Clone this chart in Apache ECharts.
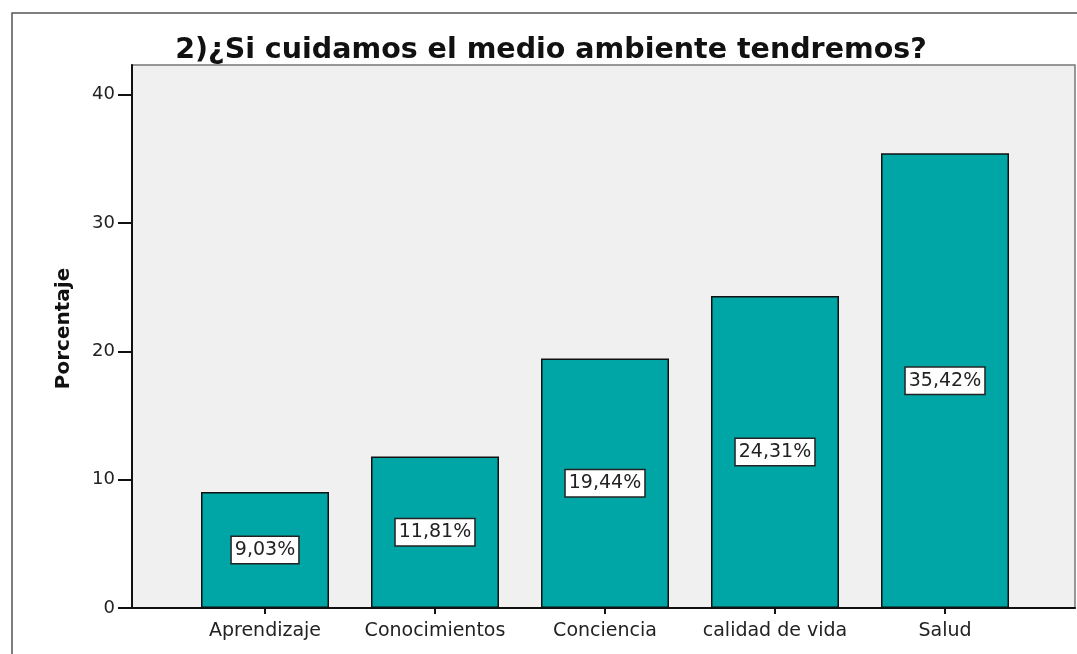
<!DOCTYPE html>
<html>
<head>
<meta charset="utf-8">
<script src="https://cdn.jsdelivr.net/npm/echarts@6/dist/echarts.min.js"></script>
<style>
    html, body { margin: 0; padding: 0; background: #fff; }
    #main { width: 1077px; height: 654px; }
</style>
</head>
<body>
<div id="main"></div>
<script type="text/javascript">
    // datos
    var titulo = '2)¿Si cuidamos el medio ambiente tendremos?';
    var categorias = ['Aprendizaje', 'Conocimientos', 'Conciencia', 'calidad de vida', 'Salud'];
    var porcentajes = [9.03, 11.81, 19.44, 24.31, 35.42];
    var marcasY = [0, 10, 20, 30, 40];
    var ejeY = { min: 0, max: 42.3 };

    var myChart = echarts.init(document.getElementById('main'));

    var option = {
        animation: false,
        textStyle: { fontFamily: '"DejaVu Sans", Verdana, sans-serif' },
        title: {
            text: titulo,
            left: 546,
            top: 31,
            textAlign: 'center',
            textStyle: { fontSize: 28.5, fontWeight: 'bold', color: '#111' }
        },
        graphic: [{
            type: 'rect',
            shape: { x: 12, y: 13, width: 1100, height: 700 },
            style: { fill: 'none', stroke: '#555', lineWidth: 1.5 },
            silent: true
        }],
        grid: [
            // marco gris del area de trazado
            { left: 132, right: 2, top: 65, bottom: 46, show: true,
              backgroundColor: '#f0f0f0', borderColor: '#777', borderWidth: 1.5 },
            // zona de las barras
            { left: 180, right: 47, top: 65, bottom: 46 }
        ],
        xAxis: [
            { gridIndex: 0, type: 'value', min: 0, max: 1,
              axisLine: { show: true, onZero: false, lineStyle: { color: '#111', width: 2 } },
              axisTick: { show: false }, axisLabel: { show: false }, splitLine: { show: false } },
            { gridIndex: 1, type: 'category', data: categorias,
              axisLine: { show: false },
              axisTick: { show: true, interval: 0, alignWithLabel: true, length: 6, lineStyle: { color: '#111', width: 2 } },
              axisLabel: { interval: 0, fontSize: 19, color: '#222', margin: 14 } }
        ],
        yAxis: [
            { gridIndex: 0, type: 'value', min: ejeY.min, max: ejeY.max,
              name: 'Porcentaje', nameLocation: 'middle', nameGap: 58, nameRotate: 90,
              nameTextStyle: { fontSize: 20, fontWeight: 'bold', color: '#111', padding: [0, 0, 0, 16] },
              axisLine: { show: true, lineStyle: { color: '#111', width: 2 } },
              axisTick: { show: true, length: 14, customValues: marcasY, lineStyle: { color: '#111', width: 2 } },
              axisLabel: { fontSize: 18, color: '#222', margin: 17, customValues: marcasY },
              splitLine: { show: false } },
            { gridIndex: 1, type: 'value', min: ejeY.min, max: ejeY.max, show: false, splitLine: { show: false } }
        ],
        series: [{
            type: 'bar',
            xAxisIndex: 1,
            yAxisIndex: 1,
            data: porcentajes,
            barWidth: 128,
            itemStyle: { color: '#00a6a5', borderColor: '#111', borderWidth: 1.5 },
            label: {
                show: true,
                position: 'inside',
                formatter: function (p) { return p.value.toFixed(2).replace('.', ',') + '%'; },
                fontSize: 19,
                color: '#222',
                backgroundColor: '#fff',
                borderColor: '#222',
                borderWidth: 1.5,
                padding: [4, 3, 3, 3]
            }
        }]
    };
    myChart.setOption(option);
</script>
</body>
</html>
